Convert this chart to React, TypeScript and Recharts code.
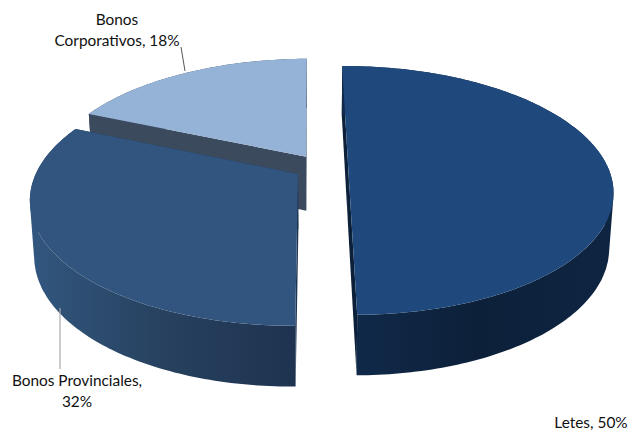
import { PieChart, Pie } from 'recharts';

const categories = ['Bonos Corporativos', 'Letes', 'Bonos Provinciales'];
// labels round these to 18 / 50 / 32
const shares = [18.4, 50, 31.6];
const labelLines = [
  ['Bonos', 'Corporativos, 18%'],
  ['Letes, 50%'],
  ['Bonos Provinciales,', '32%'],
];

const chartData = categories.map((name, i) => ({ name, value: shares[i] }));

// the reference is a tilted 3D pie, so each slice is projected by hand from the angles Pie gives it
const TILT = 0.189;
const FLATTEN = 0.4624;
const EXPLODE = 0.105;
const THICKNESS = 54.5;
const RAD = Math.PI / 180;

const sliceStyles = [
  { top: '#95b3d7', wall: 'url(#wallCorp)', cut: '#3c4a5e' },
  { top: '#1f497d', wall: 'url(#wallLetes)', cut: '#0c2039' },
  { top: '#32557f', wall: 'url(#wallProv)', cut: '#1e3350' },
];

const toPath = (pts: number[][]) =>
  pts.map((p, i) => `${i ? 'L' : 'M'}${p[0].toFixed(1)},${p[1].toFixed(1)}`).join(' ') + ' Z';

// wall strip folds over at the silhouette, so every quad gets the same winding or the fold punches a hole
const quadPath = (a: number[], b: number[], c: number[], d: number[]) => {
  const pts = [a, b, c, d];
  let area = 0;
  pts.forEach((p, i) => {
    const n = pts[(i + 1) % 4];
    area += p[0] * n[1] - n[0] * p[1];
  });
  return toPath(area < 0 ? pts.reverse() : pts);
};

function Slice3D(props: any) {
  const { cx, cy, outerRadius, startAngle, endAngle, midAngle, name } = props;
  const style = sliceStyles[categories.indexOf(name)];
  const ox = EXPLODE * Math.cos(midAngle * RAD);
  const oy = EXPLODE * Math.sin(midAngle * RAD);

  const project = (u: number, v: number) => {
    const p = ox + u;
    const q = oy + v;
    const w = 1 + TILT * q;
    return [cx + (outerRadius * p) / w, cy - (outerRadius * FLATTEN * q) / w];
  };
  const drop = (u: number, v: number) => {
    const [x, y] = project(u, v);
    const q = oy + v;
    return [cx + (x - cx) * 0.985, y + THICKNESS / (1 + 0.1 * q)];
  };

  const lo = Math.min(startAngle, endAngle);
  const hi = Math.max(startAngle, endAngle);
  const angles: number[] = [];
  for (let a = lo; a < hi; a += 1) angles.push(a);
  angles.push(hi);
  const unit = angles.map((a) => [Math.cos(a * RAD), Math.sin(a * RAD)]);

  const arcTop = unit.map(([u, v]) => project(u, v));
  const arcLow = unit.map(([u, v]) => drop(u, v));
  const apexTop = project(0, 0);
  const apexLow = drop(0, 0);
  const last = unit.length - 1;
  const wall = arcTop
    .slice(0, last)
    .map((p, i) => quadPath(p, arcTop[i + 1], arcLow[i + 1], arcLow[i]))
    .join(' ');

  return (
    <g>
      <path d={quadPath(apexTop, arcTop[0], arcLow[0], apexLow)} fill={style.cut} />
      <path d={quadPath(apexTop, arcTop[last], arcLow[last], apexLow)} fill={style.cut} />
      <path d={wall} fill={style.wall} />
      <path d={toPath([apexTop, ...arcTop])} fill={style.top} />
    </g>
  );
}

const labelAnchors = [
  { x: 117, y: 25 },
  { x: 591, y: 428 },
  { x: 77, y: 386 },
];

function SliceLabel(props: any) {
  const i = categories.indexOf(props.name);
  const anchor = labelAnchors[i];
  return (
    <g>
      {i === 0 && <line x1={181} y1={47} x2={185} y2={71} stroke="#555" strokeWidth={1} />}
      {i === 2 && <line x1={60} y1={308} x2={60} y2={369} stroke="#aaa" strokeWidth={1.2} />}
      <text
        x={anchor.x}
        y={anchor.y}
        textAnchor="middle"
        fontFamily="Lato, sans-serif"
        fontSize={15.4}
        fill="#111"
      >
        {labelLines[i].map((line, n) => (
          <tspan key={line} x={anchor.x} dy={n ? 21 : 0}>
            {line}
          </tspan>
        ))}
      </text>
    </g>
  );
}

export default function App() {
  return (
    <div style={{ position: 'absolute', left: 0, top: 0, width: 628, height: 432, background: '#fff' }}>
      <PieChart width={628} height={432} margin={{ top: 0, right: 0, bottom: 0, left: 0 }}>
        <defs>
          <linearGradient id="wallCorp" x1="0" y1="0" x2="1" y2="0">
            <stop offset="0%" stopColor="#3c4a5e" />
            <stop offset="100%" stopColor="#3c4a5e" />
          </linearGradient>
          <linearGradient id="wallLetes" x1="0" y1="0" x2="1" y2="0">
            <stop offset="0%" stopColor="#112a4b" />
            <stop offset="50%" stopColor="#0c2039" />
            <stop offset="100%" stopColor="#0e2542" />
          </linearGradient>
          <linearGradient id="wallProv" x1="0" y1="0" x2="1" y2="0">
            <stop offset="0%" stopColor="#32577f" />
            <stop offset="50%" stopColor="#27415f" />
            <stop offset="100%" stopColor="#1e3350" />
          </linearGradient>
        </defs>
        <Pie
          data={chartData}
          dataKey="value"
          nameKey="name"
          cx={321}
          cy={167}
          innerRadius={0}
          outerRadius={259.5}
          startAngle={156.7}
          endAngle={-203.3}
          stroke="none"
          shape={Slice3D}
          label={SliceLabel}
          labelLine={false}
          isAnimationActive={false}
        />
      </PieChart>
    </div>
  );
}
